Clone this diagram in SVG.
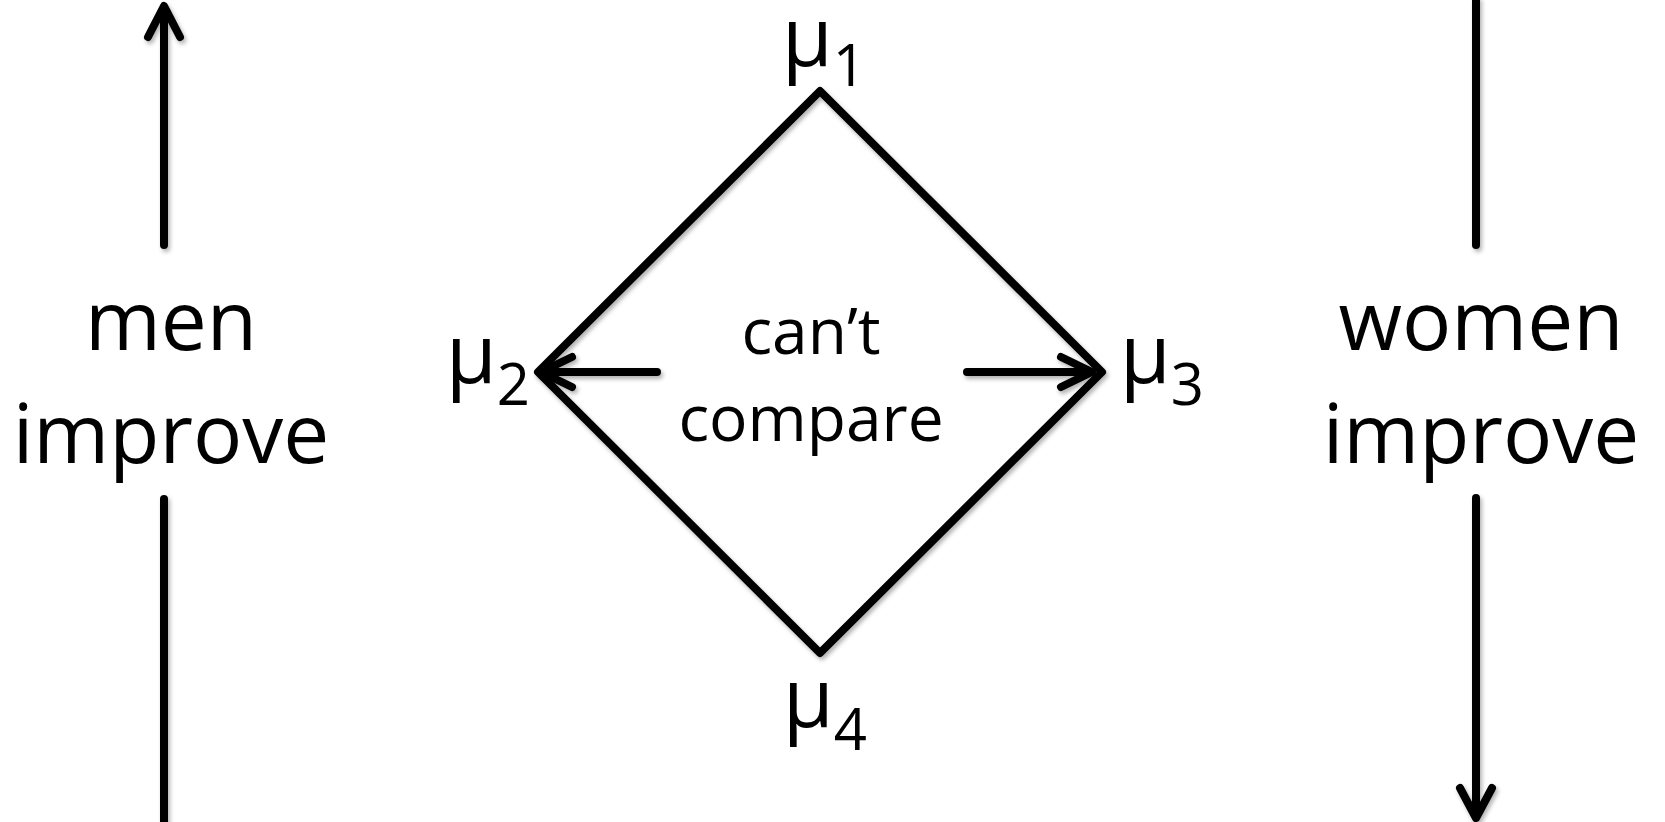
<svg xmlns="http://www.w3.org/2000/svg" width="1665" height="822" viewBox="0 0 1665 822">
<style>
.ln{fill:none;stroke:#000;stroke-width:8;stroke-linecap:round;stroke-linejoin:round}
.big{font-family:"Open Sans","Noto Sans",sans-serif;font-size:82px;fill:#000;text-anchor:middle}
.mid{font-family:"Open Sans","Noto Sans",sans-serif;font-size:64px;fill:#000;text-anchor:middle}
.mu{font-family:"Open Sans","Noto Sans",sans-serif;font-size:82px;fill:#000}
.sub{font-size:58px}
</style>
<defs>
<filter id="sh" x="-10%" y="-10%" width="120%" height="120%">
<feDropShadow dx="2" dy="3" stdDeviation="2" flood-color="#000" flood-opacity="0.3"/>
</filter>
</defs>
<g id="connectors" filter="url(#sh)">
<path class="ln" d="M164,245 V10 M148,37 L164,6 L180,37"/>
<path class="ln" d="M164,499 V822"/>
<path class="ln" d="M1476,0 V245"/>
<path class="ln" d="M1476,498 V814 M1460,788 L1476,818 L1492,788"/>
<path class="ln" d="M657,372 H544 M572,357 L541,372 L572,387"/>
<path class="ln" d="M967,372 H1089 M1061,357 L1092,372 L1061,387"/>
</g>
<g id="diamond" filter="url(#sh)">
<polygon class="ln" stroke-width="7" points="820,91 1102,372 820,653 538,372"/>
</g>
<g id="men">
<text class="big" x="171" y="350">men</text>
<text class="big" x="171" y="463">improve</text>
</g>
<g id="women">
<text class="big" x="1481" y="350">women</text>
<text class="big" x="1481" y="463">improve</text>
</g>
<g id="cantcompare">
<text class="mid" x="811" y="354">can’t</text>
<text class="mid" x="811" y="441">compare</text>
</g>
<g id="mu1"><text class="mu" x="782" y="66">μ<tspan class="sub" dy="20">1</tspan></text></g>
<g id="mu2"><text class="mu" x="446" y="383">μ<tspan class="sub" dy="22">2</tspan></text></g>
<g id="mu3"><text class="mu" x="1120" y="383">μ<tspan class="sub" dy="22">3</tspan></text></g>
<g id="mu4"><text class="mu" x="783" y="727">μ<tspan class="sub" dy="23">4</tspan></text></g>
</svg>
